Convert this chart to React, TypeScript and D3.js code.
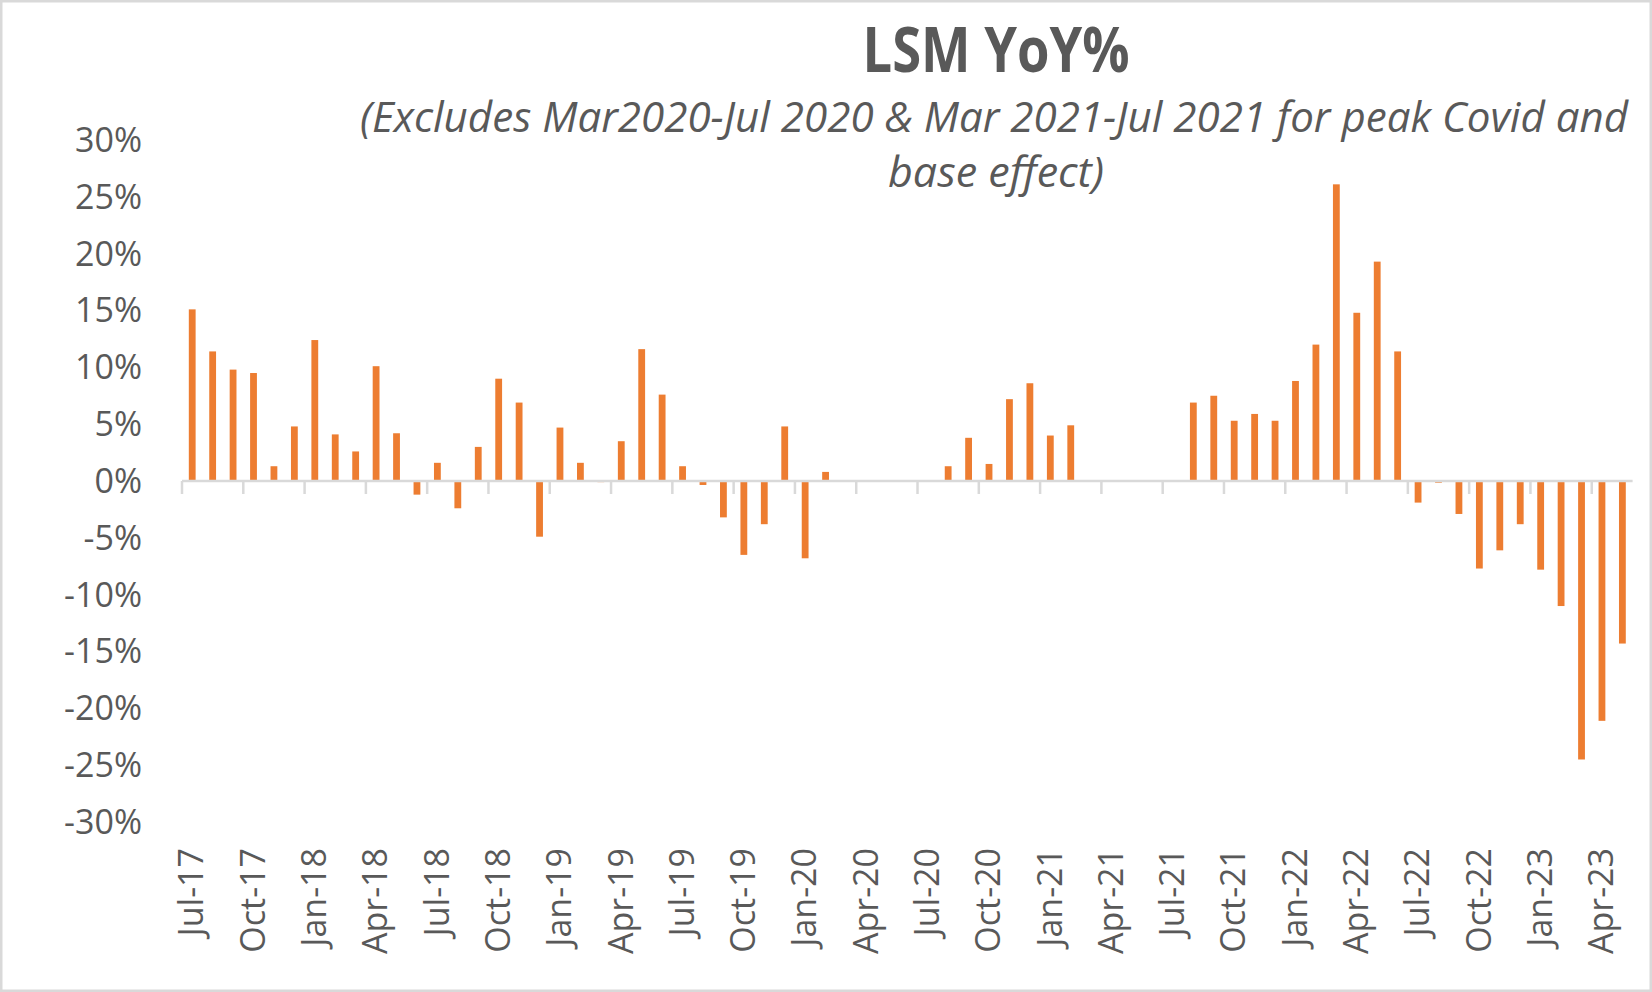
import * as d3 from "d3";

// monthly LSM YoY growth, %; null = excluded months (Covid peak / base effect)
const months = [
  "Jul-17", "Aug-17", "Sep-17", "Oct-17", "Nov-17", "Dec-17",
  "Jan-18", "Feb-18", "Mar-18", "Apr-18", "May-18", "Jun-18",
  "Jul-18", "Aug-18", "Sep-18", "Oct-18", "Nov-18", "Dec-18",
  "Jan-19", "Feb-19", "Mar-19", "Apr-19", "May-19", "Jun-19",
  "Jul-19", "Aug-19", "Sep-19", "Oct-19", "Nov-19", "Dec-19",
  "Jan-20", "Feb-20", "Mar-20", "Apr-20", "May-20", "Jun-20",
  "Jul-20", "Aug-20", "Sep-20", "Oct-20", "Nov-20", "Dec-20",
  "Jan-21", "Feb-21", "Mar-21", "Apr-21", "May-21", "Jun-21",
  "Jul-21", "Aug-21", "Sep-21", "Oct-21", "Nov-21", "Dec-21",
  "Jan-22", "Feb-22", "Mar-22", "Apr-22", "May-22", "Jun-22",
  "Jul-22", "Aug-22", "Sep-22", "Oct-22", "Nov-22", "Dec-22",
  "Jan-23", "Feb-23", "Mar-23", "Apr-23", "May-23",
];

const yoy: (number | null)[] = [
  15.1, 11.4, 9.8, 9.5, 1.3, 4.8,
  12.4, 4.1, 2.6, 10.1, 4.2, -1.2,
  1.6, -2.4, 3.0, 9.0, 6.9, -4.9,
  4.7, 1.6, -0.1, 3.5, 11.6, 7.6,
  1.3, -0.35, -3.2, -6.5, -3.8, 4.8,
  -6.8, 0.8, null, null, null, null,
  null, 1.3, 3.8, 1.5, 7.2, 8.6,
  4.0, 4.9, null, null, null, null,
  null, 6.9, 7.5, 5.3, 5.9, 5.3,
  8.8, 12.0, 26.1, 14.8, 19.3, 11.4,
  -1.9, -0.15, -2.9, -7.7, -6.1, -3.8,
  -7.8, -11.0, -24.5, -21.1, -14.3,
];

const yTicks = [30, 25, 20, 15, 10, 5, 0, -5, -10, -15, -20, -25, -30];

const W = 1652;
const H = 992;
const TEXT = "#595959";
const GRID = "#D9D9D9";
const BAR = "#ED7D31";
const FONT = "'Open Sans', sans-serif";

export default function App() {
  const x = d3.scaleBand<string>().domain(months).range([182, 1632.6]);
  const y = d3.scaleLinear().domain([-30, 30]).range([822, 140]);
  const bw = x.bandwidth() / 3;
  const y0 = y(0);

  return (
    <svg
      width={W}
      height={H}
      style={{ position: "absolute", left: 0, top: 0, background: "#fff" }}
    >
      <rect x={1.25} y={1.25} width={W - 2.5} height={H - 2.5} fill="#fff" stroke={GRID} strokeWidth={2.5} />

      {/* title */}
      <text x={996} y={72} textAnchor="middle" fontFamily={FONT} fontWeight={700} fontSize={62}
        fill={TEXT} textLength={267} lengthAdjust="spacingAndGlyphs">
        LSM YoY%
      </text>
      <text x={994} y={132} textAnchor="middle" fontFamily={FONT} fontStyle="italic" fontSize={42}
        fill={TEXT} textLength={1268} lengthAdjust="spacingAndGlyphs">
        (Excludes Mar2020-Jul 2020 &amp; Mar 2021-Jul 2021 for peak Covid and
      </text>
      <text x={996} y={187} textAnchor="middle" fontFamily={FONT} fontStyle="italic" fontSize={42}
        fill={TEXT} textLength={216} lengthAdjust="spacingAndGlyphs">
        base effect)
      </text>

      {/* y axis labels */}
      {yTicks.map((t) => (
        <text key={t} x={142} y={y(t)} dy="0.35em" textAnchor="end" fontFamily={FONT}
          fontSize={34} fill={TEXT}>
          {t + "%"}
        </text>
      ))}

      {/* bars */}
      {months.map((m, i) => {
        const v = yoy[i];
        if (v === null) return null;
        const cx = (x(m) as number) + x.bandwidth() / 2;
        return (
          <rect key={m} x={cx - bw / 2} width={bw}
            y={Math.min(y(v), y0)} height={Math.abs(y(v) - y0)} fill={BAR} />
        );
      })}

      {/* category axis */}
      <line x1={x.range()[0]} x2={x.range()[1]} y1={y0} y2={y0} stroke={GRID} strokeWidth={2.5} />
      {months.map((m, i) =>
        i % 3 === 0 ? (
          <line key={"t" + m} x1={x(m)} x2={x(m)} y1={y0} y2={y0 + 13} stroke={GRID} strokeWidth={2.5} />
        ) : null
      )}
      {months.map((m, i) => {
        if (i % 3 !== 0) return null;
        const cx = (x(m) as number) + x.bandwidth() / 2;
        return (
          <text key={"l" + m} transform={`translate(${cx},848) rotate(-90)`} dy="0.33em"
            textAnchor="end" fontFamily={FONT} fontSize={34} fill={TEXT}>
            {m}
          </text>
        );
      })}
    </svg>
  );
}
